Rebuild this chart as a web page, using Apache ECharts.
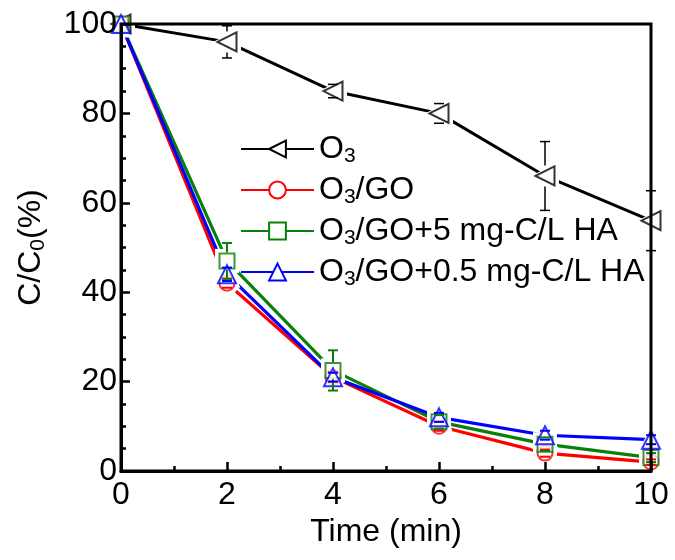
<!DOCTYPE html>
<html><head><meta charset="utf-8">
<script src="https://cdn.jsdelivr.net/npm/echarts@6/dist/echarts.min.js"></script>
<style>html,body{margin:0;padding:0;background:#fff}#c{width:675px;height:560px}</style>
</head><body><div id="c"></div>
<script>
const time = [0, 2, 4, 6, 8, 10];
const seriesNames = ['O3', 'O3/GO', 'O3/GO+5 mg-C/L HA', 'O3/GO+0.5 mg-C/L HA'];
const o3 = [100, 96, 85, 80, 66, 56];
const o3Err = [0, 3.6, 1.5, 2.2, 7.7, 6.7];
const o3go = [100, 42, 21, 10, 4, 2];
const o3goErr = [0, 1, 1, 1, 0.8, 0.6];
const ha5 = [100, 47, 22.5, 11, 6, 3];
const ha5Err = [0, 4, 4.5, 1.5, 1.5, 1];
const ha05 = [100, 44, 21, 12, 8, 7];
const ha05Err = [0, 1.5, 1, 1, 1, 1];
const xTickStep = 2;
const yTickStep = 20;

const FONT = 'Liberation Sans, Arial, sans-serif';
const colors = ['#000000', '#ff0000', '#0a800a', '#0000ff'];
const symbols = ['emptyTriangle', 'emptyCircle', 'emptyRect', 'emptyTriangle'];
const haloSymbols = ['triangle', 'circle', 'rect', 'triangle'];
const symbolSizes = [19, 15, 15, 18];
const rotates = [90, 0, 0, 0];
const lineWidths = [3, 3.2, 3.2, 3.2];
const values = [o3, o3go, ha5, ha05];
const errs = [o3Err, o3goErr, ha5Err, ha05Err];

function errRender(color, half, lw) {
  return function (params, api) {
    const x = api.value(0), y = api.value(1), e = api.value(2);
    if (!e) return null;
    const c = api.coord([x, y]);
    const hi = api.coord([x, y + e]);
    const lo = api.coord([x, y - e]);
    const cap = 5;
    const style = { stroke: color, lineWidth: lw, fill: null };
    const ch = [
      { type: 'line', shape: { x1: hi[0] - cap, y1: hi[1], x2: hi[0] + cap, y2: hi[1] }, style: style },
      { type: 'line', shape: { x1: lo[0] - cap, y1: lo[1], x2: lo[0] + cap, y2: lo[1] }, style: style }
    ];
    if (c[1] - hi[1] > half) ch.push({ type: 'line', shape: { x1: c[0], y1: hi[1], x2: c[0], y2: c[1] - half }, style: style });
    if (lo[1] - c[1] > half) ch.push({ type: 'line', shape: { x1: c[0], y1: c[1] + half, x2: c[0], y2: lo[1] }, style: style });
    return { type: 'group', children: ch };
  };
}

const series = [];
values.forEach((v, i) => {
  const pts = time.map((t, k) => [t, v[k]]);
  series.push({
    name: seriesNames[i], type: 'line', data: pts,
    symbol: symbols[i], symbolSize: symbolSizes[i], symbolRotate: rotates[i],
    showAllSymbol: true, clip: false, z: 2,
    lineStyle: { color: colors[i], width: lineWidths[i] },
    itemStyle: { color: colors[i], borderWidth: 1.5 }
  });
});
values.forEach((v, i) => {
  const pts = time.map((t, k) => [t, v[k]]);
  series.push({
    name: seriesNames[i] + ' halo', type: 'scatter', data: pts, clip: false, z: 5,
    symbol: haloSymbols[i], symbolSize: symbolSizes[i] + 9, symbolRotate: rotates[i],
    itemStyle: { color: '#ffffff', opacity: 1 }, silent: true
  });
});
values.forEach((v, i) => {
  const pts = time.map((t, k) => [t, v[k]]);
  series.push({
    name: seriesNames[i] + ' mk', type: 'scatter', data: pts, clip: false, z: 6,
    symbol: symbols[i], symbolSize: symbolSizes[i], symbolRotate: rotates[i],
    itemStyle: { color: colors[i], borderWidth: 1.5 }, silent: true
  });
});
values.forEach((v, i) => {
  series.push({
    name: seriesNames[i] + ' err', type: 'custom', clip: false, z: 10,
    data: time.map((t, k) => [t, v[k], errs[i][k]]),
    encode: { x: 0, y: 1 },
    renderItem: errRender(colors[i], symbolSizes[i] / 2 + 1, i === 0 ? 1.5 : 2)
  });
});

const chart = echarts.init(document.getElementById('c'));
chart.setOption({
  animation: false,
  backgroundColor: '#fff',
  grid: { left: 121, right: 24, top: 24, bottom: 89, show: true, borderColor: '#000', borderWidth: 3, backgroundColor: 'transparent', z: 20 },
  xAxis: {
    type: 'value', min: 0, max: 10, interval: xTickStep, z: 20,
    name: 'Time (min)', nameLocation: 'middle', nameGap: 34,
    nameTextStyle: { fontSize: 32, fontFamily: FONT, color: '#000' },
    axisLine: { show: true, lineStyle: { color: '#000', width: 3 } },
    axisTick: { show: true, inside: true, length: 9, lineStyle: { color: '#000', width: 2.5 } },
    minorTick: { show: true, splitNumber: 2, length: 5, lineStyle: { color: '#000', width: 2.5 } },
    axisLabel: { fontSize: 32, fontFamily: FONT, color: '#000', margin: 8 },
    splitLine: { show: false }
  },
  yAxis: {
    type: 'value', min: 0, max: 100, interval: yTickStep, z: 20,
    name: '{n|C/C}{s|0}{n|(%)}', nameLocation: 'middle', nameGap: 72, nameRotate: 90,
    nameTextStyle: {
      fontSize: 32, fontFamily: FONT, color: '#000',
      rich: { n: { fontSize: 32, fontFamily: FONT, color: '#000', lineHeight: 36 },
              s: { fontSize: 21, fontFamily: FONT, color: '#000', lineHeight: 26, verticalAlign: 'bottom' } }
    },
    axisLine: { show: true, lineStyle: { color: '#000', width: 3 } },
    axisTick: { show: true, inside: true, length: 9, lineStyle: { color: '#000', width: 2.5 } },
    minorTick: { show: true, splitNumber: 4, length: 5, lineStyle: { color: '#000', width: 2.5 } },
    axisLabel: { fontSize: 32, fontFamily: FONT, color: '#000', margin: 4 },
    splitLine: { show: false }
  },
  legend: {
    data: seriesNames, orient: 'vertical', left: 240, top: 133, padding: 0,
    itemWidth: 73, itemHeight: 21, itemGap: 7,
    formatter: function (name) { return '{n|O}{s|3}{n|' + name.slice(2) + '}'; },
    textStyle: {
      fontSize: 32, fontFamily: FONT, color: '#000',
      rich: { n: { fontSize: 32, fontFamily: FONT, color: '#000', lineHeight: 36 },
              s: { fontSize: 21, fontFamily: FONT, color: '#000', lineHeight: 26, verticalAlign: 'bottom' } }
    }
  },
  series: series
});
</script></body></html>
